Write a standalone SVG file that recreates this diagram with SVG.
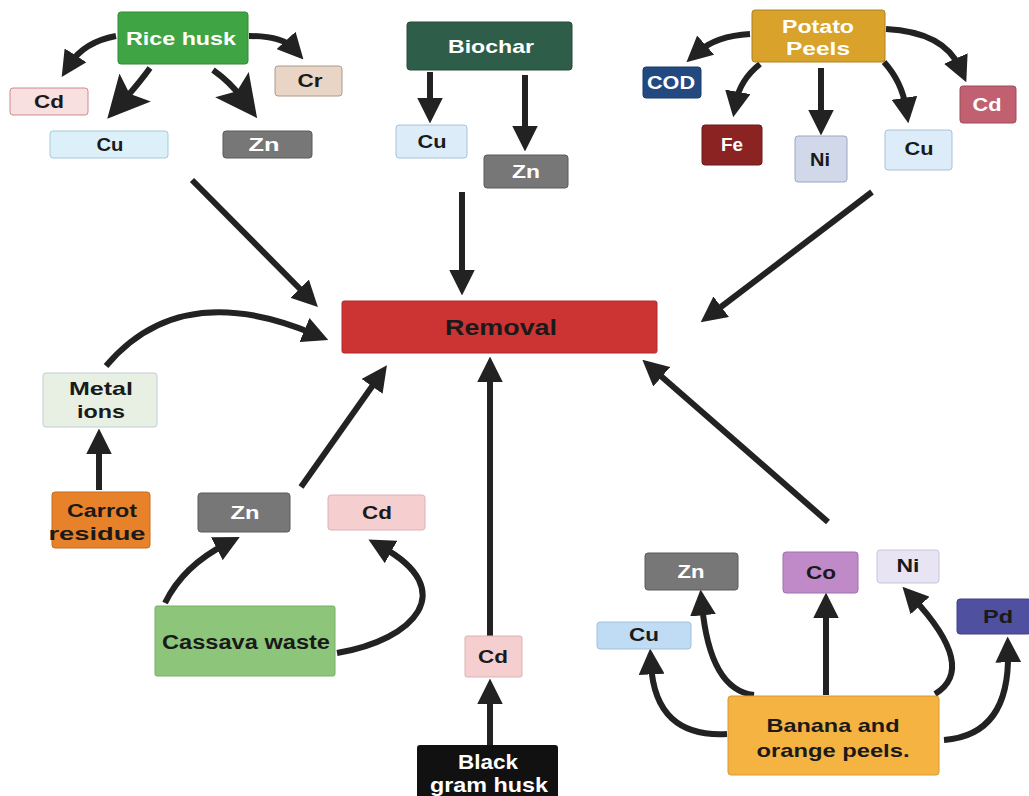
<svg xmlns="http://www.w3.org/2000/svg" width="1029" height="796" viewBox="0 0 1029 796">
<defs>
<style>
text{font-family:"Liberation Sans",Arial,sans-serif;font-weight:bold;text-anchor:middle;dominant-baseline:central;font-size:19px}
.s{font-size:18px}
.w{fill:#ffffff}.k{fill:#1a1a1a}
.c{fill:none;stroke:#222;stroke-width:6;marker-end:url(#ah)}
.cb{fill:none;stroke:#222;stroke-width:6;marker-end:url(#ahb)}
</style>
<marker id="ah" viewBox="0 0 10 10" refX="4" refY="5" markerWidth="4.3" markerHeight="4.3" orient="auto" markerUnits="strokeWidth"><path d="M0,0 L10,5 L0,10 z" fill="#222"/></marker>
<marker id="ahb" viewBox="0 0 10 10" refX="4" refY="5" markerWidth="7" markerHeight="7" orient="auto" markerUnits="strokeWidth"><path d="M0,0 L10,5 L0,10 L2,5 z" fill="#222"/></marker>
</defs>
<rect width="1029" height="796" fill="#ffffff"/>
<g id="connectors">
<path class="c" d="M116,36 Q84,42 70,64"/>
<path class="cb" d="M150,68 Q140,82 124,100"/>
<path class="cb" d="M213,70 Q230,82 242,98"/>
<path class="c" d="M249,36 Q282,36 293,48"/>
<path class="c" d="M430,72 L430,108"/>
<path class="c" d="M525,75 L525,136"/>
<path class="c" d="M750,34 Q716,36 698,52"/>
<path class="c" d="M760,64 Q740,80 736,102"/>
<path class="c" d="M821,68 L821,120"/>
<path class="c" d="M884,62 Q902,82 906,108"/>
<path class="c" d="M886,29 Q944,32 960,68"/>
<path class="c" d="M192,180 L307,296"/>
<path class="c" d="M462,192 L462,280"/>
<path class="c" d="M872,192 L713,313"/>
<path class="c" d="M106,366 Q180,278 314,334"/>
<path class="c" d="M99,490 L99,444"/>
<path class="c" d="M301,487 L378,378"/>
<path class="c" d="M490,636 L490,372"/>
<path class="c" d="M490,745 L490,694"/>
<path class="c" d="M828,522 L654,370"/>
<path class="c" d="M165,603 Q183,566 226,544"/>
<path class="c" d="M337,653 C415,640 460,590 382,547"/>
<path class="c" d="M727,734 Q655,738 651,664"/>
<path class="c" d="M754,695 Q710,690 702,605"/>
<path class="c" d="M826,695 L826,608"/>
<path class="c" d="M935,694 Q978,668 913,598"/>
<path class="c" d="M944,740 Q1010,735 1008,652"/>
</g>
<g id="rice_husk"><rect x="118" y="12" width="130" height="52" rx="3" fill="#3fa544" stroke="#2f8a35"/><text x="181" y="38" class="w" textLength="110" lengthAdjust="spacingAndGlyphs">Rice husk</text></g>
<g id="rh_cd"><rect x="10" y="88" width="78" height="27" rx="3" fill="#f8dfe0" stroke="#d08a90"/><text x="49" y="102" class="k s" textLength="30" lengthAdjust="spacingAndGlyphs">Cd</text></g>
<g id="rh_cu"><rect x="50" y="131" width="118" height="27" rx="3" fill="#dcf0fa" stroke="#a8c8d8"/><text x="110" y="145" class="k s" textLength="27" lengthAdjust="spacingAndGlyphs">Cu</text></g>
<g id="rh_zn"><rect x="223" y="131" width="89" height="27" rx="3" fill="#777777" stroke="#5a5a5a"/><text x="264" y="145" class="w s" textLength="31" lengthAdjust="spacingAndGlyphs">Zn</text></g>
<g id="rh_cr"><rect x="275" y="66" width="67" height="30" rx="3" fill="#e8d5c5" stroke="#b09a8a"/><text x="310" y="81" class="k s" textLength="25" lengthAdjust="spacingAndGlyphs">Cr</text></g>
<g id="biochar"><rect x="407" y="22" width="165" height="48" rx="3" fill="#2e5e4a" stroke="#244a3a"/><text x="491" y="46" class="w" textLength="86" lengthAdjust="spacingAndGlyphs">Biochar</text></g>
<g id="bc_cu"><rect x="396" y="125" width="71" height="33" rx="3" fill="#dcecf8" stroke="#a8c0d8"/><text x="432" y="142" class="k s" textLength="29" lengthAdjust="spacingAndGlyphs">Cu</text></g>
<g id="bc_zn"><rect x="484" y="155" width="84" height="33" rx="3" fill="#777777" stroke="#5a5a5a"/><text x="526" y="172" class="w s" textLength="28" lengthAdjust="spacingAndGlyphs">Zn</text></g>
<g id="potato"><rect x="752" y="10" width="133" height="52" rx="3" fill="#d9a22a" stroke="#b08020"/><text x="818" y="26" class="w" textLength="72" lengthAdjust="spacingAndGlyphs">Potato</text><text x="818" y="48" class="w" textLength="64" lengthAdjust="spacingAndGlyphs">Peels</text></g>
<g id="pp_cod"><rect x="643" y="67" width="58" height="31" rx="3" fill="#234a80" stroke="#1a3a66"/><text x="671" y="83" class="w s" textLength="48" lengthAdjust="spacingAndGlyphs">COD</text></g>
<g id="pp_fe"><rect x="702" y="125" width="60" height="40" rx="3" fill="#8b2323" stroke="#6a1a1a"/><text x="732" y="145" class="w s" textLength="22" lengthAdjust="spacingAndGlyphs">Fe</text></g>
<g id="pp_ni"><rect x="795" y="136" width="52" height="46" rx="3" fill="#d0d8ea" stroke="#9aa6c0"/><text x="820" y="160" class="k s" textLength="20" lengthAdjust="spacingAndGlyphs">Ni</text></g>
<g id="pp_cu"><rect x="885" y="130" width="67" height="40" rx="3" fill="#dcecf8" stroke="#a8c0d8"/><text x="919" y="149" class="k s" textLength="29" lengthAdjust="spacingAndGlyphs">Cu</text></g>
<g id="pp_cd"><rect x="960" y="86" width="56" height="37" rx="3" fill="#c06070" stroke="#a04a5a"/><text x="987" y="105" class="w s" textLength="29" lengthAdjust="spacingAndGlyphs">Cd</text></g>
<g id="removal"><rect x="342" y="301" width="315" height="52" rx="2" fill="#cc3333" stroke="#b02a2a"/><text x="501" y="327" class="k" style="font-size:22px" textLength="112" lengthAdjust="spacingAndGlyphs">Removal</text></g>
<g id="metal_ions"><rect x="43" y="373" width="114" height="54" rx="3" fill="#e8f0e4" stroke="#c0ccd8"/><text x="101" y="388" class="k" textLength="64" lengthAdjust="spacingAndGlyphs">Metal</text><text x="101" y="411" class="k" textLength="48" lengthAdjust="spacingAndGlyphs">ions</text></g>
<g id="carrot"><rect x="52" y="492" width="98" height="56" rx="3" fill="#e8822a" stroke="#c86a1a"/><text x="102" y="510" class="k" textLength="70" lengthAdjust="spacingAndGlyphs">Carrot</text><text x="97" y="533" class="k" textLength="97" lengthAdjust="spacingAndGlyphs">residue</text></g>
<g id="cv_zn"><rect x="198" y="493" width="92" height="39" rx="3" fill="#777777" stroke="#5a5a5a"/><text x="245" y="513" class="w s" textLength="29" lengthAdjust="spacingAndGlyphs">Zn</text></g>
<g id="cv_cd"><rect x="328" y="495" width="97" height="35" rx="3" fill="#f5cfd0" stroke="#ddb0b4"/><text x="377" y="513" class="k s" textLength="30" lengthAdjust="spacingAndGlyphs">Cd</text></g>
<g id="cassava"><rect x="155" y="606" width="180" height="70" rx="2" fill="#8dc57a" stroke="#78b066"/><text x="246" y="642" class="k" style="font-size:20px" textLength="168" lengthAdjust="spacingAndGlyphs">Cassava waste</text></g>
<g id="bg_cd"><rect x="465" y="636" width="57" height="41" rx="2" fill="#f5cfd0" stroke="#ddb0b4"/><text x="493" y="657" class="k s" textLength="30" lengthAdjust="spacingAndGlyphs">Cd</text></g>
<g id="black_gram"><rect x="417" y="745" width="141" height="55" rx="3" fill="#111111"/><text x="488" y="761" class="w" style="font-size:21px" textLength="60" lengthAdjust="spacingAndGlyphs">Black</text><text x="489" y="784" class="w" style="font-size:21px" textLength="118" lengthAdjust="spacingAndGlyphs">gram husk</text></g>
<g id="banana"><rect x="728" y="696" width="211" height="79" rx="3" fill="#f5b342" stroke="#d89a30"/><text x="833" y="725" class="k" textLength="133" lengthAdjust="spacingAndGlyphs">Banana and</text><text x="833" y="750" class="k" textLength="153" lengthAdjust="spacingAndGlyphs">orange peels.</text></g>
<g id="bo_zn"><rect x="645" y="553" width="93" height="37" rx="3" fill="#777777" stroke="#5a5a5a"/><text x="691" y="572" class="w s" textLength="27" lengthAdjust="spacingAndGlyphs">Zn</text></g>
<g id="bo_co"><rect x="783" y="552" width="75" height="41" rx="3" fill="#c08ac8" stroke="#a070b0"/><text x="821" y="573" class="k s" textLength="30" lengthAdjust="spacingAndGlyphs">Co</text></g>
<g id="bo_ni"><rect x="877" y="550" width="62" height="33" rx="3" fill="#e8e4f4" stroke="#c8c4dc"/><text x="908" y="566" class="k s" textLength="23" lengthAdjust="spacingAndGlyphs">Ni</text></g>
<g id="bo_pd"><rect x="957" y="599" width="74" height="35" rx="3" fill="#5050a0" stroke="#404088"/><text x="998" y="617" class="k s" textLength="30" lengthAdjust="spacingAndGlyphs">Pd</text></g>
<g id="bo_cu"><rect x="597" y="622" width="94" height="27" rx="3" fill="#c0dcf4" stroke="#a0c0dc"/><text x="644" y="635" class="k s" textLength="30" lengthAdjust="spacingAndGlyphs">Cu</text></g>
</svg>
